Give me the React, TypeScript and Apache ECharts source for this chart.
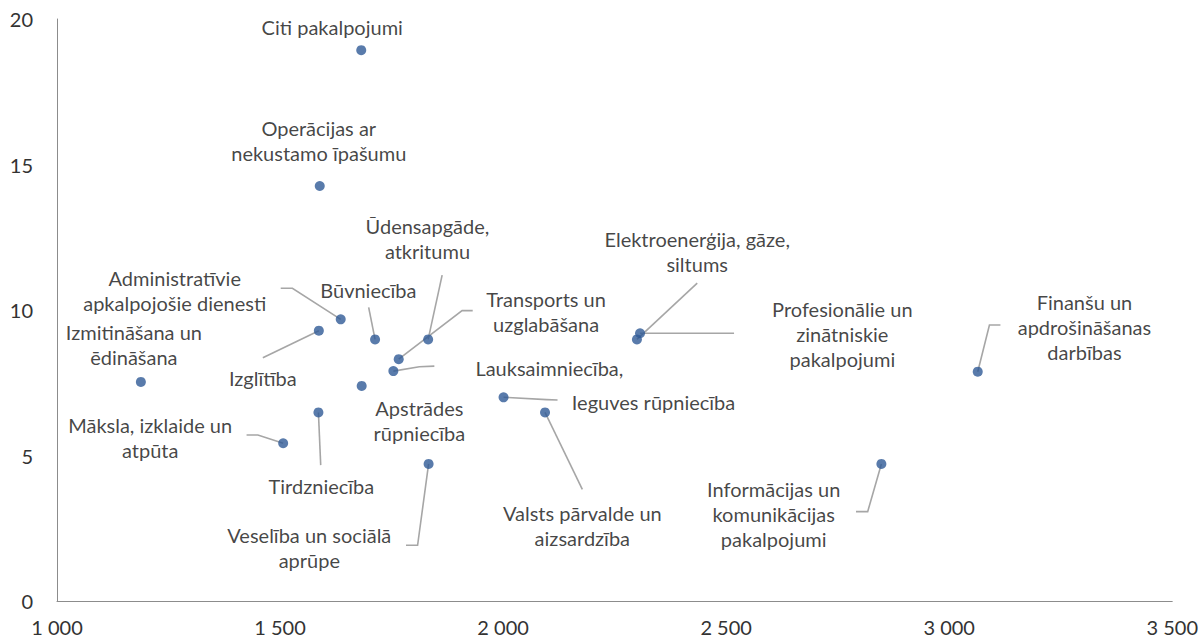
import React, { useEffect, useRef } from "react";
import * as echarts from "echarts";

// ---- data ----
const sectors: string[] = [
  "Citi pakalpojumi",
  "Operācijas ar\nnekustamo īpašumu",
  "Administratīvie\napkalpojošie dienesti",
  "Izglītība",
  "Būvniecība",
  "Ūdensapgāde,\natkritumu",
  "Transports un\nuzglabāšana",
  "Lauksaimniecība,",
  "Izmitināšana un\nēdināšana",
  "Apstrādes\nrūpniecība",
  "Tirdzniecība",
  "Māksla, izklaide un\natpūta",
  "Veselība un sociālā\naprūpe",
  "Ieguves rūpniecība",
  "Valsts pārvalde un\naizsardzība",
  "Elektroenerģija, gāze,\nsiltums",
  "Profesionālie un\nzinātniskie\npakalpojumi",
  "Informācijas un\nkomunikācijas\npakalpojumi",
  "Finanšu un\napdrošināšanas\ndarbības",
];
const xValues: number[] = [
  1682, 1589, 1636, 1587, 1713, 1832, 1766, 1754, 1188, 1683, 1586, 1507, 1833,
  2001, 2094, 2300, 2307, 2848, 3064,
];
const yValues: number[] = [
  18.93, 14.26, 9.68, 9.29, 8.99, 8.99, 8.31, 7.9, 7.53, 7.39, 6.48, 5.42, 4.71,
  7.0, 6.48, 8.99, 9.2, 4.71, 7.88,
];
const xTicks = { min: 1000, max: 3500, interval: 500 };
const yTicks = { min: 0, max: 20, interval: 5 };

// ---- label layout (pixel offsets from each point, styling only) ----
const labelOffsets: [number, number][] = [
  [-29, -23.3],
  [-1, -45.5],
  [-166, -28.8],
  [-56, 47],
  [-6.7, -49.3],
  [-0.7, -101.3],
  [147.4, -47.6],
  [156, -3],
  [-7, -37.8],
  [57.7, 34.5],
  [3, 73.4],
  [-133, -6],
  [-119.3, 83.5],
  [150, 4.7],
  [37.3, 113.5],
  [60.3, -87.5],
  [202.3, 0.7],
  [-107.7, 50.4],
  [106.7, -45],
];
const leaderOffsets: ([number, number][] | null)[] = [
  null,
  null,
  [[-48.3, -31], [-60, -31]],
  [[-56, 27]],
  [[-6.4, -32]],
  [[14, -64.3]],
  [[63.4, -48.6], [74, -48.6]],
  [[26, -4.3], [41, -5]],
  null,
  null,
  [[2.3, 52.7]],
  [[-25.3, -8.3], [-36.6, -8.3]],
  [[-11, 81.3], [-22.6, 81.3]],
  [[43, 2.3], [54, 2.7]],
  [[37.3, 77]],
  [[60.3, -56.2]],
  [[0, 0], [94, 0]],
  [[-13.7, 47.7], [-25.4, 47.7]],
  [[11.7, -46.7], [22.7, -46.7]],
];

const FONT = "Lato, 'Open Sans', sans-serif";

export default function App() {
  const ref = useRef<HTMLDivElement>(null);
  useEffect(() => {
    document.body.style.margin = "0";
    if (!ref.current) return;
    const chart = echarts.init(ref.current, undefined, { renderer: "svg" });
    const points = sectors.map((name, i) => ({
      name,
      value: [xValues[i], yValues[i]],
    }));
    chart.setOption({
      animation: false,
      backgroundColor: "#ffffff",
      grid: { left: 57, right: 26, top: 19, bottom: 41, containLabel: false },
      xAxis: {
        type: "value",
        min: xTicks.min,
        max: xTicks.max,
        interval: xTicks.interval,
        axisLine: { show: true, lineStyle: { color: "#8c8c8c", width: 1 } },
        axisTick: { show: false },
        splitLine: { show: false },
        axisLabel: {
          margin: 16,
          color: "#333333",
          fontFamily: FONT,
          fontSize: 20,
          formatter: (v: number) =>
            String(v).replace(/\B(?=(\d{3})+(?!\d))/g, " "),
        },
      },
      yAxis: {
        type: "value",
        min: yTicks.min,
        max: yTicks.max,
        interval: yTicks.interval,
        axisLine: { show: true, lineStyle: { color: "#8c8c8c", width: 1 } },
        axisTick: { show: false },
        splitLine: { show: false },
        axisLabel: {
          margin: 24,
          color: "#333333",
          fontFamily: FONT,
          fontSize: 20,
        },
      },
      series: [
        {
          type: "custom",
          z: 1,
          silent: true,
          data: points.map((p) => p.value),
          renderItem: (params: any, api: any) => {
            const offs = leaderOffsets[params.dataIndex];
            if (!offs) return null;
            const c = api.coord([api.value(0), api.value(1)]);
            const pts = [c, ...offs.map((o) => [c[0] + o[0], c[1] + o[1]])];
            return {
              type: "polyline",
              shape: { points: pts },
              style: { stroke: "#a6a6a6", lineWidth: 1.6, fill: "none" },
            };
          },
        },
        {
          type: "scatter",
          z: 2,
          symbol: "circle",
          symbolSize: 10,
          itemStyle: { color: "#2f5a96" },
          data: points,
          label: {
            show: true,
            formatter: "{b}",
            color: "#141414",
            fontFamily: FONT,
            fontSize: 20,
            lineHeight: 25,
          },
          labelLine: { show: false },
          labelLayout: (params: any) => {
            const o = labelOffsets[params.dataIndex] || [0, 0];
            return {
              x: params.rect.x + params.rect.width / 2 + o[0],
              y: params.rect.y + params.rect.height / 2 + o[1],
              align: "center",
              verticalAlign: "middle",
            };
          },
        },
      ],
    });
    return () => chart.dispose();
  }, []);
  return <div ref={ref} style={{ width: 1201, height: 642 }} />;
}
